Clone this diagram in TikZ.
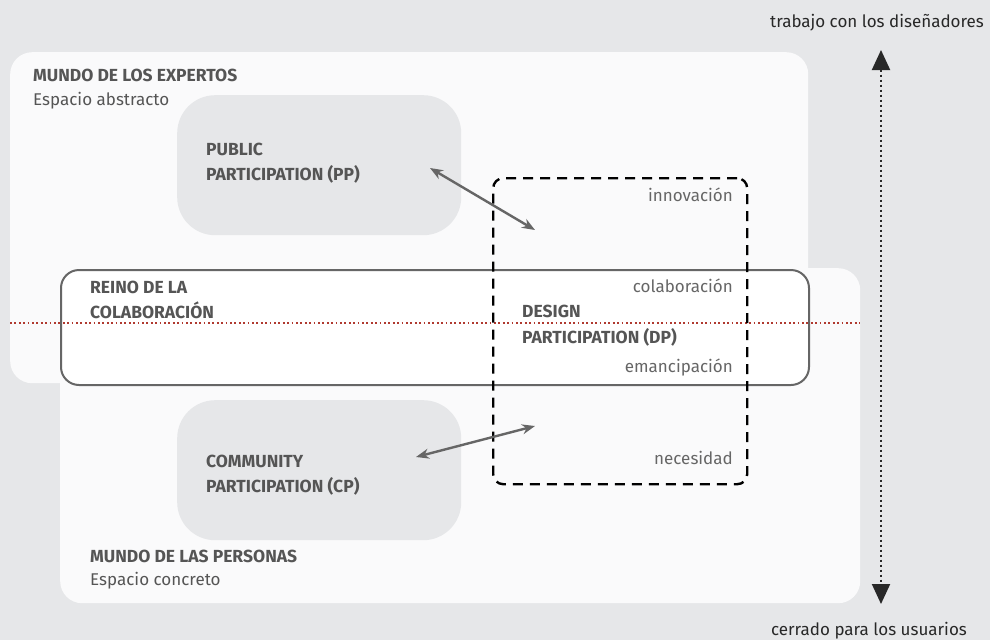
\documentclass[tikz,border=0pt]{standalone}
\usepackage{fontspec}
\setmainfont{Fira Sans}
\usetikzlibrary{arrows.meta}
\definecolor{bg}{RGB}{230,231,233}
\definecolor{panel}{RGB}{250,250,251}
\definecolor{softbox}{RGB}{230,231,233}
\definecolor{txt}{RGB}{85,85,85}
\definecolor{lbl}{RGB}{102,102,102}
\definecolor{edge}{RGB}{102,102,102}
\definecolor{redline}{RGB}{176,58,48}
\definecolor{axis}{RGB}{40,40,40}
\tikzset{
  panelbox/.style={fill=panel, draw=none, rounded corners=22pt, anchor=north west, inner sep=0pt},
  softnode/.style={fill=softbox, draw=none, rounded corners=38pt, anchor=north west, inner sep=0pt, minimum width=284pt, minimum height=140pt},
  head/.style={font=\fontsize{17.5}{20}\selectfont\bfseries, text=txt, anchor=base west, inner sep=0pt},
  body/.style={font=\fontsize{17}{20}\selectfont, text=txt, anchor=base west, inner sep=0pt},
  rlabel/.style={font=\fontsize{17}{20}\selectfont, text=lbl, anchor=base east, inner sep=0pt},
  axlabel/.style={font=\fontsize{17}{20}\selectfont, text=axis, anchor=base, inner sep=0pt},
  link/.style={draw=edge, line width=2.4pt, {Stealth[length=13pt,width=10pt]}-{Stealth[length=13pt,width=10pt]}},
}
\begin{document}
\begin{tikzpicture}[x=1pt,y=-1pt]
\useasboundingbox (0,0) rectangle (990,640);
\fill[bg] (0,0) rectangle (990,640);
% panels
\node[panelbox, minimum width=798pt, minimum height=331pt] (upper) at (10,52) {};
\node[panelbox, minimum width=800pt, minimum height=335pt] (lower) at (60,268) {};
% middle band
\node[fill=white, draw=edge, line width=2pt, rounded corners=18pt, anchor=north west, inner sep=0pt, minimum width=748pt, minimum height=115pt] (band) at (60,269) {};
% soft boxes
\node[softnode] (pp) at (177,95) {};
\node[softnode] (cp) at (177,400) {};
% red dotted line
\coordinate (rl) at (10,323);
\coordinate (rr) at (860,323);
\draw[redline, line width=1.8pt, dash pattern=on 1.8pt off 2.6pt] (rl) -- (rr);
% dashed box
\node[draw=black, line width=2.4pt, dash pattern=on 10pt off 7pt, rounded corners=10pt, anchor=north west, inner sep=0pt, minimum width=254pt, minimum height=306pt] (dp) at (492,177) {};
% texts
\node[head] (h1) at (33,81) {MUNDO DE LOS EXPERTOS};
\node[body] (s1) at (33,105) {Espacio abstracto};
\node[head] (t1) at (206,155) {PUBLIC};
\node[head] (t2) at (206,180) {PARTICIPATION (PP)};
\node[head] (r1) at (90,293) {REINO DE LA};
\node[head] (r2) at (90,318) {COLABORACIÓN};
\node[head] (d1) at (522,317) {DESIGN};
\node[head] (d2) at (522,343) {PARTICIPATION (DP)};
\node[head] (c1) at (206,467) {COMMUNITY};
\node[head] (c2) at (206,492) {PARTICIPATION (CP)};
\node[head] (h2) at (90,562) {MUNDO DE LAS PERSONAS};
\node[body] (s2) at (90,585) {Espacio concreto};
\node[rlabel] (l1) at (733,201) {innovación};
\node[rlabel] (l2) at (733,292) {colaboración};
\node[rlabel] (l3) at (733,372) {emancipación};
\node[rlabel] (l4) at (733,464) {necesidad};
\node[axlabel] (top) at (877,27) {trabajo con los diseñadores};
\node[axlabel] (bot) at (869,635) {cerrado para los usuarios};
% arrows
\coordinate (a1) at (430,168);
\coordinate (a2) at (535,230);
\coordinate (b1) at (416,457);
\coordinate (b2) at (535,426);
\draw[link] (a1) -- (a2);
\draw[link] (b1) -- (b2);
% vertical axis
\coordinate (vt) at (881,50);
\coordinate (vb) at (881,604);
\draw[axis, line width=2pt, dash pattern=on 2pt off 3pt, {Triangle[length=20pt,width=18pt]}-{Triangle[length=20pt,width=18pt]}] (vt) -- (vb);
\end{tikzpicture}
\end{document}
